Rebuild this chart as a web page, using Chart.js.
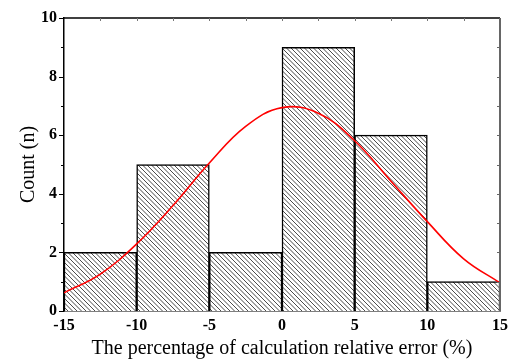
<!DOCTYPE html>
<html>
<head>
<meta charset="utf-8">
<script src="https://cdn.jsdelivr.net/npm/chart.js@4/dist/chart.umd.min.js"></script>
<style>body{margin:0;background:#fff}</style>
</head>
<body>
<canvas id="myChart" width="510" height="361"></canvas>
<script>
// histogram bins (centres, width 5) and counts
const binCenters = [-12.5, -7.5, -2.5, 2.5, 7.5, 12.5];
const counts = [2, 5, 2, 9, 6, 1];

// fitted normal curve
const curveX = [-15, -12.5, -10, -7.5, -5, -2.5, 0, 2.5, 5, 7.5, 10, 12.5, 15];
const curveY = [0.62, 1.26, 2.29, 3.6, 5.05, 6.3, 6.94, 6.75, 5.81, 4.43, 3.05, 1.78, 0.96];

const xTicks = [-15, -10, -5, 0, 5, 10, 15];
const yTicks = [0, 2, 4, 6, 8, 10];

function hatchPattern() {
    const n = 9;
    const c = document.createElement('canvas');
    c.width = n; c.height = n;
    const g = c.getContext('2d');
    g.fillStyle = '#fff';
    g.fillRect(0, 0, n, n);
    g.strokeStyle = '#4a4a4a';
    g.lineWidth = 1;
    for (let k = -4; k <= 4; k++) {
        const o = k * 4.5;
        g.beginPath();
        g.moveTo(o - 1, -1);
        g.lineTo(o + n + 1, n + 1);
        g.stroke();
    }
    return g.createPattern(c, 'repeat');
}

const serif = "'Liberation Serif', 'Times New Roman', serif";

const framePlugin = {
    id: 'frame',
    afterDraw(chart) {
        const {ctx, chartArea: a, scales: {x, y}} = chart;
        ctx.save();
        ctx.strokeStyle = '#000';
        ctx.lineWidth = 1.5;
        ctx.beginPath();
        ctx.moveTo(a.left, a.top);
        ctx.lineTo(a.right, a.top);
        ctx.stroke();
        // left ticks, outward
        ctx.lineWidth = 1;
        for (let v = 0; v <= 10; v++) {
            const py = Math.round(y.getPixelForValue(v)) + 0.5;
            const len = v % 2 ? 3 : 5;
            ctx.beginPath();
            ctx.moveTo(a.left - len, py);
            ctx.lineTo(a.left, py);
            ctx.stroke();
        }
        // top ticks, inward
        ctx.strokeStyle = '#777';
        for (let v = -12.5; v < 15; v += 2.5) {
            const px = Math.round(x.getPixelForValue(v)) + 0.5;
            ctx.beginPath();
            ctx.moveTo(px, a.top);
            ctx.lineTo(px, a.top + 3);
            ctx.stroke();
        }
        // right axis
        ctx.strokeStyle = '#666';
        ctx.lineWidth = 2;
        ctx.beginPath();
        ctx.moveTo(a.right, a.top);
        ctx.lineTo(a.right, a.bottom);
        ctx.stroke();
        ctx.lineWidth = 1;
        for (let v = 1; v < 10; v++) {
            const py = Math.round(y.getPixelForValue(v)) + 0.5;
            ctx.beginPath();
            ctx.moveTo(a.right - 3, py);
            ctx.lineTo(a.right, py);
            ctx.stroke();
        }
        ctx.restore();
    }
};

const ctx = document.getElementById('myChart');
const myChart = new Chart(ctx, {
    type: 'bar',
    data: {
        datasets: [{
            type: 'line',
            data: curveX.map((v, i) => ({x: v, y: curveY[i]})),
            borderColor: '#ff0000',
            borderWidth: 1.6,
            pointRadius: 0,
            tension: 0.4,
            fill: false,
            order: 0
        }, {
            type: 'bar',
            data: binCenters.map((v, i) => ({x: v, y: counts[i]})),
            backgroundColor: hatchPattern(),
            borderColor: '#000',
            borderWidth: 1.5,
            barPercentage: 1,
            categoryPercentage: 1,
            order: 1
        }]
    },
    options: {
        responsive: false,
        animation: false,
        layout: {padding: {left: 0, right: 10, top: 18, bottom: 0}},
        plugins: {legend: {display: false}, tooltip: {enabled: false}},
        scales: {
            x: {
                type: 'linear',
                min: -15,
                max: 15,
                offset: false,
                afterBuildTicks: s => { s.ticks = xTicks.map(v => ({value: v})); },
                afterFit: s => { s.height = 50; s.paddingLeft = 0; s.paddingRight = 0; },
                grid: {display: false, drawTicks: false},
                border: {display: true, color: '#000', width: 1.5},
                ticks: {
                    color: '#000',
                    padding: 5,
                    maxRotation: 0,
                    font: {family: serif, size: 16, weight: 'bold'}
                },
                title: {
                    display: true,
                    text: 'The percentage of calculation relative error (%)',
                    color: '#000',
                    font: {family: serif, size: 20},
                    padding: {top: 0, bottom: 0}
                }
            },
            y: {
                min: 0,
                max: 10,
                afterBuildTicks: s => { s.ticks = yTicks.map(v => ({value: v})); },
                afterFit: s => { s.width = 64; s.paddingTop = 0; s.paddingBottom = 0; },
                grid: {display: false, drawTicks: false},
                border: {display: true, color: '#000', width: 1.5},
                ticks: {
                    color: '#000',
                    padding: 7,
                    font: {family: serif, size: 16, weight: 'bold'}
                },
                title: {
                    display: true,
                    text: 'Count (n)',
                    color: '#000',
                    font: {family: serif, size: 20},
                    padding: {top: 17, bottom: 0}
                }
            }
        }
    },
    plugins: [framePlugin]
});
</script>
</body>
</html>
